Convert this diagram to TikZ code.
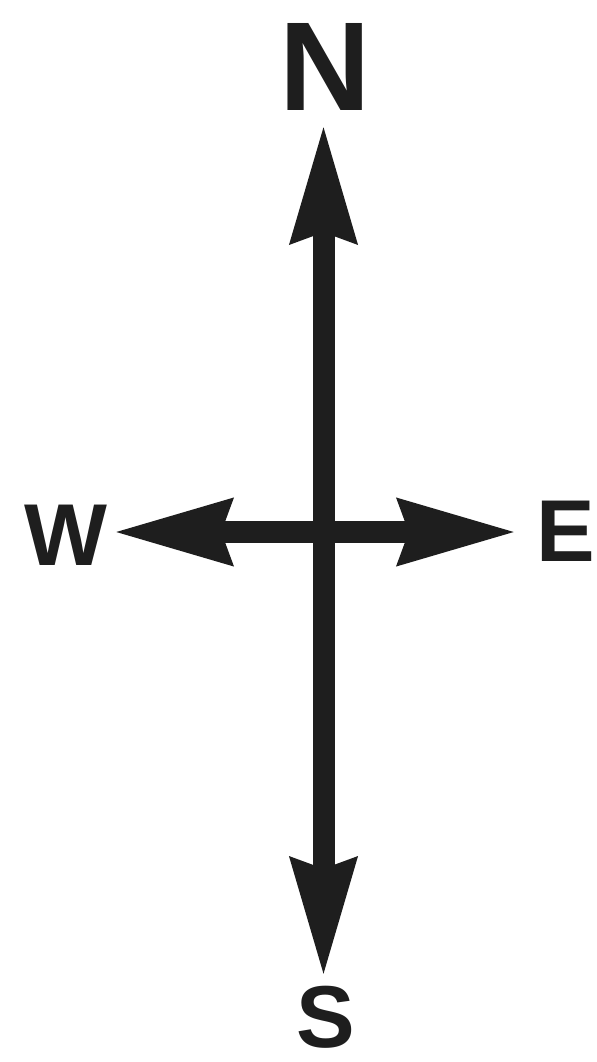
\documentclass[tikz,border=0pt]{standalone}
\usepackage{fontspec}
\setmainfont{Liberation Sans}
\usetikzlibrary{arrows.meta}
\definecolor{ink}{HTML}{1E1E1E}
\begin{document}
\begin{tikzpicture}[x=0.02cm,y=-0.02cm,
  arr/.style={draw=ink, line width=0.44cm,
    {Stealth[length=2.34cm,width=1.26cm,inset=0.18cm,fill=ink]}-{Stealth[length=2.34cm,width=1.26cm,inset=0.18cm,fill=ink]}},
  big/.style={text=ink, inner sep=0pt, font=\fontsize{72}{72}\selectfont\bfseries},
  lbl/.style={text=ink, inner sep=0pt, font=\fontsize{50}{50}\selectfont\bfseries}]
\useasboundingbox (0,0) rectangle (596,1062);
\node[big] (N) at (325,67) {N};
\node[lbl] (W) at (66,535) {W};
\node[lbl] (E) at (566,531) {E};
\node[lbl] (S) at (326,1017) {S};
\coordinate (Ntip) at (323.5,124);
\coordinate (Stip) at (323.5,977);
\coordinate (Wtip) at (113,532);
\coordinate (Etip) at (517,532);
\draw[arr] (Ntip) -- (Stip);
\draw[arr] (Wtip) -- (Etip);
\end{tikzpicture}
\end{document}
